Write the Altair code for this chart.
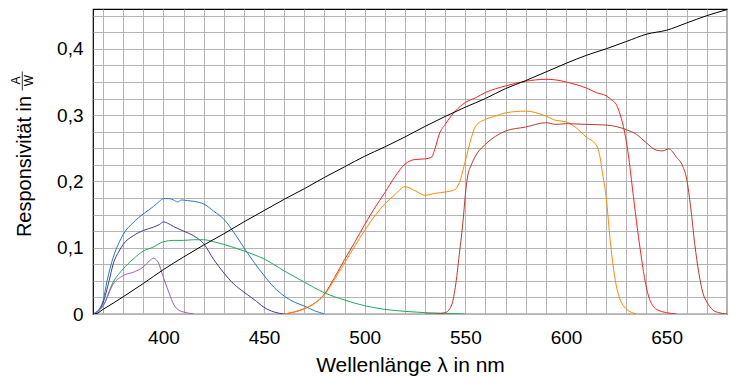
import altair as alt
import pandas as pd

# ---- data ----
black_nm = [365, 366, 370, 380, 390, 400, 410, 420, 430, 440, 450, 460, 470, 480, 490, 500,
            510, 520, 530, 540, 550, 560, 570, 580, 590, 600, 610, 620, 630, 640, 650, 660, 670, 680]
black_v = [0.0, 0.0, 0.007, 0.026, 0.046, 0.067, 0.086, 0.104, 0.121, 0.139, 0.156, 0.173, 0.189,
           0.206, 0.222, 0.238, 0.252, 0.267, 0.283, 0.298, 0.312, 0.325, 0.34, 0.352, 0.365, 0.378,
           0.39, 0.4, 0.411, 0.422, 0.428, 0.439, 0.45, 0.459]

blue_nm = [365, 367, 370, 372, 375, 378, 380, 385, 390, 395, 398, 400, 403, 405, 407, 409, 412, 415,
           418, 420, 425, 430, 435, 440, 445, 450, 455, 460, 465, 470, 475, 480]
blue_v = [0.0, 0.004, 0.02, 0.05, 0.085, 0.108, 0.12, 0.138, 0.151, 0.162, 0.17, 0.174, 0.174, 0.172,
          0.169, 0.172, 0.171, 0.17, 0.168, 0.166, 0.155, 0.143, 0.123, 0.1, 0.078, 0.058, 0.04, 0.027,
          0.018, 0.012, 0.005, 0.0]

indigo_nm = [365, 367, 370, 373, 375, 378, 380, 385, 390, 395, 398, 400, 402, 405, 410, 415, 420,
             425, 430, 435, 440, 445, 450, 455, 460]
indigo_v = [0.0, 0.003, 0.017, 0.05, 0.075, 0.095, 0.105, 0.118, 0.126, 0.131, 0.135, 0.139, 0.137,
            0.132, 0.125, 0.118, 0.106, 0.082, 0.062, 0.045, 0.033, 0.022, 0.01, 0.003, 0.0]

green_nm = [365, 367, 370, 375, 380, 385, 390, 395, 400, 405, 410, 415, 420, 425, 430, 440, 450, 460,
            470, 480, 490, 500, 510, 520, 530, 540, 550]
green_v = [0.0, 0.003, 0.0125, 0.048, 0.068, 0.083, 0.095, 0.101, 0.109, 0.111, 0.111, 0.112, 0.112,
           0.109, 0.105, 0.095, 0.083, 0.065, 0.048, 0.032, 0.021, 0.0125, 0.007, 0.004, 0.002, 0.001, 0.0]

purple_nm = [365, 367, 370, 375, 380, 385, 390, 393, 395, 397, 400, 403, 405, 408, 410, 415]
purple_v = [0.0, 0.003, 0.012, 0.045, 0.058, 0.063, 0.071, 0.08, 0.084, 0.08, 0.055, 0.03, 0.015,
            0.005, 0.003, 0.0]

red_nm = [460, 465, 470, 475, 480, 485, 490, 495, 500, 505, 510, 515, 520, 525, 530, 533, 535, 537,
          540, 545, 550, 555, 560, 570, 580, 590, 595, 600, 605, 610, 615, 620, 623, 625, 627, 629,
          631, 633, 635, 637, 639, 641, 643, 645, 650, 655]
red_v = [0.0, 0.003, 0.008, 0.016, 0.03, 0.055, 0.082, 0.108, 0.135, 0.16, 0.183, 0.207, 0.226, 0.233,
         0.234, 0.236, 0.25, 0.271, 0.286, 0.306, 0.319, 0.326, 0.334, 0.344, 0.351, 0.354, 0.353,
         0.35, 0.346, 0.341, 0.334, 0.329, 0.322, 0.316, 0.3, 0.276, 0.24, 0.19, 0.14, 0.095, 0.055,
         0.027, 0.013, 0.007, 0.002, 0.0]

orange_nm = [460, 465, 470, 475, 480, 485, 490, 495, 500, 505, 510, 515, 520, 525, 530, 535, 540, 545,
             547, 550, 553, 555, 560, 565, 570, 580, 590, 595, 600, 605, 610, 615, 617, 618, 620,
             622, 624, 626, 628, 630, 635]
orange_v = [0.0, 0.003, 0.008, 0.016, 0.029, 0.052, 0.077, 0.102, 0.126, 0.148, 0.166, 0.18, 0.192,
            0.186, 0.179, 0.182, 0.184, 0.188, 0.198, 0.231, 0.266, 0.283, 0.2935, 0.2985, 0.3035,
            0.306, 0.2985, 0.292, 0.29, 0.281, 0.267, 0.255, 0.235, 0.215, 0.175, 0.11, 0.06, 0.03,
            0.015, 0.0075, 0.0]

brown_nm = [530, 535, 540, 543, 545, 547, 549, 550, 551, 553, 555, 560, 565, 570, 580, 590, 595, 600,
            610, 620, 630, 635, 640, 645, 648, 651, 655, 658, 660, 662, 664, 666, 668, 670, 673, 676,
            680]
brown_v = [0.0, 0.0, 0.002, 0.012, 0.04, 0.09, 0.145, 0.18, 0.205, 0.225, 0.238, 0.256, 0.268, 0.276,
           0.282, 0.2885, 0.286, 0.287, 0.286, 0.285, 0.278, 0.271, 0.258, 0.247, 0.246, 0.249, 0.236,
           0.223, 0.203, 0.16, 0.105, 0.062, 0.032, 0.018, 0.006, 0.002, 0.0]

series = [
    ("blue", blue_nm, blue_v),
    ("indigo", indigo_nm, indigo_v),
    ("green", green_nm, green_v),
    ("purple", purple_nm, purple_v),
    ("red", red_nm, red_v),
    ("orange", orange_nm, orange_v),
    ("brown", brown_nm, brown_v),
    ("black", black_nm, black_v),
]
colors = ["#2379c6", "#3e3c9c", "#22a862", "#a45cb6", "#ff2020", "#ff8a00", "#bb3a2c", "#000000"]

x_ticks = list(range(370, 681, 10))
y_ticks = [round(i * 0.025, 3) for i in range(19)]

rows = []
for i, (name, xs, ys) in enumerate(series):
    for k, (a, b) in enumerate(zip(xs, ys)):
        rows.append({"series": name, "order": i, "nm": a, "r": b, "k": k})
df = pd.DataFrame(rows)

FONT = "Liberation Sans"

lines = alt.Chart(df).mark_line(strokeWidth=1.0, interpolate="monotone", clip=True).encode(
    x=alt.X("nm:Q",
            scale=alt.Scale(domain=[365, 680], nice=False, zero=False),
            axis=alt.Axis(values=x_ticks, format="d",
                          labelExpr="datum.value % 50 == 0 ? datum.label : ''",
                          title="Wellenlänge λ in nm", labelFlush=False,
                          labelPadding=14, titlePadding=7)),
    y=alt.Y("r:Q",
            scale=alt.Scale(domain=[0, 0.46], nice=False, zero=False),
            axis=alt.Axis(values=y_ticks,
                          labelExpr="round(datum.value*40) % 4 == 0 ? replace(format(datum.value, '.1~f'), '.', ',') : ''",
                          title="Responsivität in", labelFlush=False, labelPadding=10,
                          titleAngle=270, titleX=-63, titleY=157, titleAlign="center",
                          titleBaseline="alphabetic", titleFontSize=20)),
    color=alt.Color("series:N", scale=alt.Scale(domain=[s[0] for s in series], range=colors),
                    legend=None),
    detail="series:N",
    order="k:Q",
)

one = pd.DataFrame({"t": [0]})
frac_a = alt.Chart(one).mark_text(text="A", angle=270, fontSize=12, font=FONT, align="center",
                                  baseline="middle", color="black").encode(
    x=alt.value(-77), y=alt.value(71.5))
frac_w = alt.Chart(one).mark_text(text="W", angle=270, fontSize=12, font=FONT, align="center",
                                  baseline="middle", color="black").encode(
    x=alt.value(-64), y=alt.value(71.5))
frac_bar = alt.Chart(one).mark_rule(color="black", strokeWidth=0.8).encode(
    x=alt.value(-70.7), y=alt.value(62.5), y2=alt.value(81.5))

chart = alt.layer(lines, frac_a, frac_w, frac_bar).properties(
    width=634, height=305,
    padding={"left": 85, "top": 1, "right": 1, "bottom": 70},
    autosize=alt.AutoSizeParams(type="none"),
    background="white",
).configure_view(
    stroke="black", strokeWidth=1.2
).configure_axis(
    grid=True, gridColor="#b4b4b4", gridWidth=1, gridOpacity=1,
    ticks=False, domain=False,
    labelFont=FONT, labelFontSize=19, labelColor="black",
    titleFont=FONT, titleFontSize=21, titleFontWeight="normal", titleColor="black",
)

chart.save("out.html", embed_options={"renderer": "svg", "actions": False})
